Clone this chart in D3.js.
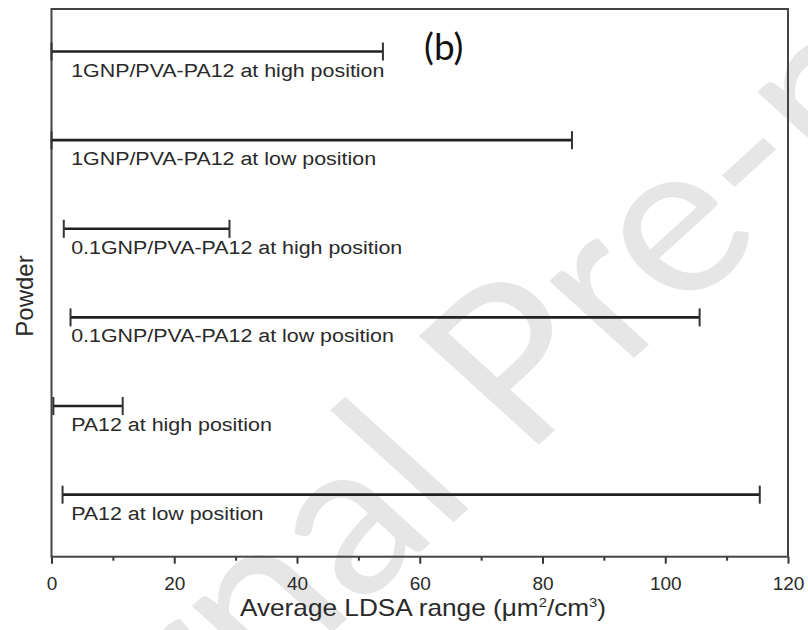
<!DOCTYPE html>
<html>
<head>
<meta charset="utf-8">
<script src="https://cdn.jsdelivr.net/npm/d3@7"></script>
<style>
    body { margin: 0; background: #fff; }
    svg { display: block; }
</style>
</head>
<body>
<div id="chart"></div>
<script>
"use-strict";

// powder samples, top to bottom
const powders = [
    "1GNP/PVA-PA12 at high position",
    "1GNP/PVA-PA12 at low position",
    "0.1GNP/PVA-PA12 at high position",
    "0.1GNP/PVA-PA12 at low position",
    "PA12 at high position",
    "PA12 at low position"
];
// LDSA range (um^2/cm^3) for each powder
const rangeLow = [0, 0, 2.0, 3.1, 0.3, 1.8];
const rangeHigh = [54.0, 84.8, 29.0, 105.6, 11.6, 115.4];
const xTicks = [0, 20, 40, 60, 80, 100, 120];
const xMinorTicks = [10, 30, 50, 70, 90, 110];

const msm = {
    width: 808,
    height: 630,
    marginLeft: 51.5,
    marginRight: 20,
    marginTop: 9,
    marginBottom: 73.3
}

let svgContainer = "";

window.onload = function () {
    svgContainer = d3.select("#chart")
        .append('svg')
        .attr('width', msm.width)
        .attr('height', msm.height);

    drawWatermark();
    let map = drawAxes();
    plotRanges(map);
    makeLabels();
}

function drawWatermark() {
    svgContainer.append('text')
        .attr('transform', 'translate(588, 400) scale(1.1, 1) rotate(-45)')
        .attr('text-anchor', 'middle')
        .style('font-family', 'Lato, "Open Sans", sans-serif')
        .style('font-size', '215px')
        .attr('fill', '#e6e6e6')
        .text('Journal Pre-proof');
}

// draw the frame, bottom axis and ticks
function drawAxes() {
    let xScale = d3.scaleLinear()
        .domain([0, 120])
        .range([msm.marginLeft, msm.width - msm.marginRight]);

    // categories sit at 6..1 from top to bottom
    let yScale = d3.scaleLinear()
        .domain([0.3, 6.48])
        .range([msm.height - msm.marginBottom, msm.marginTop]);

    let xAxis = d3.axisBottom(xScale)
        .tickValues(xTicks)
        .tickSize(7)
        .tickPadding(13)
        .tickFormat(d3.format('d'));
    let g = svgContainer.append('g')
        .attr('transform', 'translate(0, ' + (msm.height - msm.marginBottom) + ')')
        .call(xAxis);
    g.select('.domain').remove();
    g.selectAll('line').attr('stroke', '#333').attr('stroke-width', 2);
    g.selectAll('text')
        .attr('fill', '#2a2a2a')
        .style('font-family', '"Liberation Sans", Arial, sans-serif')
        .style('font-size', '19px');

    let minor = d3.axisBottom(xScale)
        .tickValues(xMinorTicks)
        .tickSize(4)
        .tickFormat('');
    let gm = svgContainer.append('g')
        .attr('transform', 'translate(0, ' + (msm.height - msm.marginBottom) + ')')
        .call(minor);
    gm.select('.domain').remove();
    gm.selectAll('line').attr('stroke', '#333').attr('stroke-width', 2);

    // plot frame
    svgContainer.append('rect')
        .attr('x', xScale(0))
        .attr('y', yScale(6.48))
        .attr('width', xScale(120) - xScale(0))
        .attr('height', yScale(0.3) - yScale(6.48))
        .attr('fill', 'none')
        .attr('stroke', '#444')
        .attr('stroke-width', 2);

    return { xScale: xScale, yScale: yScale };
}

function plotRanges(map) {
    let rows = powders.map((name, i) => ({
        name: name,
        pos: powders.length - i,
        low: rangeLow[i],
        high: rangeHigh[i]
    }));
    let xScale = map.xScale;
    let yScale = map.yScale;
    let capHalf = 9;

    let bars = svgContainer.selectAll('.range')
        .data(rows)
        .enter()
        .append('g')
        .attr('class', 'range');

    bars.append('line')
        .attr('x1', (d) => xScale(d.low))
        .attr('x2', (d) => xScale(d.high))
        .attr('y1', (d) => yScale(d.pos))
        .attr('y2', (d) => yScale(d.pos))
        .attr('stroke', '#222')
        .attr('stroke-width', 2.6);

    ['low', 'high'].forEach((k) => {
        bars.append('line')
            .attr('x1', (d) => xScale(d[k]))
            .attr('x2', (d) => xScale(d[k]))
            .attr('y1', (d) => yScale(d.pos) - capHalf)
            .attr('y2', (d) => yScale(d.pos) + capHalf)
            .attr('stroke', '#333')
            .attr('stroke-width', 2);
    });

    // sample names below each range
    bars.append('text')
        .attr('transform', (d) => 'translate(' + xScale(3.2) + ', ' + (yScale(d.pos) + 25) + ') scale(1.19, 1)')
        .style('font-family', '"Liberation Sans", Arial, sans-serif')
        .style('font-size', '18px')
        .attr('fill', '#2a2a2a')
        .text((d) => d.name);
}

function makeLabels() {
    let title = svgContainer.append('text')
        .attr('transform', 'translate(423, 616) scale(1.14, 1)')
        .attr('text-anchor', 'middle')
        .style('font-family', '"Liberation Sans", Arial, sans-serif')
        .style('font-size', '23px')
        .attr('fill', '#2a2a2a');
    title.append('tspan').text('Average LDSA range (\u03bcm');
    title.append('tspan').attr('dy', -9).style('font-size', '13px').text('2');
    title.append('tspan').attr('dy', 9).text('/cm');
    title.append('tspan').attr('dy', -9).style('font-size', '13px').text('3');
    title.append('tspan').attr('dy', 9).text(')');

    svgContainer.append('text')
        .attr('transform', 'translate(33, 296) rotate(-90)')
        .attr('text-anchor', 'middle')
        .style('font-family', '"Liberation Sans", Arial, sans-serif')
        .style('font-size', '24px')
        .attr('fill', '#2a2a2a')
        .text('Powder');

    svgContainer.append('text')
        .attr('x', 424)
        .attr('y', 60)
        .style('font-family', 'Lato, "Open Sans", sans-serif')
        .style('font-size', '37px')
        .attr('fill', '#111')
        .text('(b)');
}
</script>
</body>
</html>
